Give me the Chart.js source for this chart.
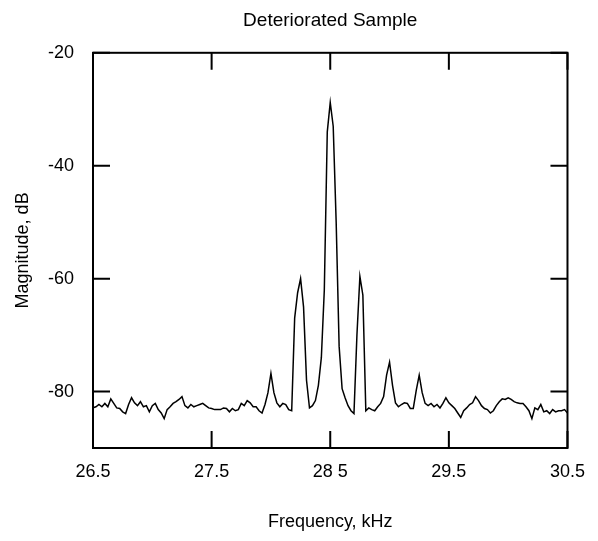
<!DOCTYPE html>
<html>
<head>
<meta charset="utf-8">
<title>Deteriorated Sample</title>
<script src="https://cdn.jsdelivr.net/npm/chart.js@4.4.1/dist/chart.umd.min.js"></script>
<style>
  html, body { margin: 0; padding: 0; background: #fff; }
  #wrap { width: 598px; height: 541px; }
</style>
</head>
<body>
<div id="wrap"><canvas id="myChart" width="598" height="541"></canvas></div>
<script>
// sampling grid of the spectrum (kHz)
const freqStart = 26.5;
const freqStep = 0.025;

// magnitude in dB, one value per grid step
const magnitude = [
    -82.9, -82.7, -82.3, -82.7, -82.1, -82.7, -81.3, -82.1, -82.9, -83.0,
    -83.6, -83.9, -82.3, -81.1, -82.0, -82.5, -81.8, -82.7, -82.5, -83.6,
    -82.5, -82.1, -83.2, -83.8, -84.8, -83.2, -82.7, -82.1, -81.8, -81.4,
    -80.9, -82.5, -82.9, -82.3, -82.7, -82.5, -82.3, -82.1, -82.5, -82.9,
    -83.0, -83.2, -83.2, -83.2, -82.9, -83.0, -83.6, -83.0, -83.4, -83.2,
    -82.1, -82.5, -81.6, -82.0, -82.7, -82.7, -83.4, -83.8, -82.3, -80.2,
    -76.8, -80.2, -82.0, -82.7, -82.1, -82.3, -83.2, -83.4, -67.0, -62.5,
    -60.0, -65.0, -78.0, -82.9, -82.5, -81.6, -78.9, -74.0, -62.0, -34.0,
    -28.8, -33.0, -50.0, -72.0, -79.5, -81.1, -82.5, -83.4, -83.9, -70.0,
    -59.6, -62.9, -83.4, -82.9, -83.2, -83.4, -82.7, -82.1, -80.9, -77.1,
    -74.8, -78.9, -82.0, -82.7, -82.3, -82.0, -82.1, -83.0, -83.0, -79.8,
    -77.1, -80.2, -82.1, -82.5, -82.1, -82.7, -82.3, -82.9, -82.1, -81.1,
    -82.0, -82.5, -83.0, -83.8, -84.6, -83.4, -82.9, -82.3, -82.0, -80.9,
    -81.6, -82.5, -83.0, -83.2, -83.8, -83.4, -82.5, -81.8, -81.3, -81.4,
    -81.1, -81.4, -81.8, -82.0, -82.1, -82.1, -82.7, -83.4, -84.8, -82.9,
    -83.2, -82.3, -83.6, -83.4, -83.9, -83.2, -83.6, -83.4, -83.4, -83.2,
    -83.8
];

const xTicks = [26.5, 27.5, 28.5, 29.5, 30.5];
const xTickLabels = ['26.5', '27.5', '28 5', '29.5', '30.5'];
const yTicks = [-20, -40, -60, -80];

const points = magnitude.map((m, i) => ({ x: freqStart + i * freqStep, y: m }));

Chart.defaults.font.family = '"Liberation Sans", Arial, Helvetica, sans-serif';
Chart.defaults.color = '#000';

// box round the plot plus inward tick marks on all four sides
const frame = {
    id: 'frame',
    afterDatasetsDraw(chart) {
        const { ctx, chartArea: a, scales: { x, y } } = chart;
        const len = 17;
        ctx.save();
        ctx.strokeStyle = '#000';
        ctx.lineWidth = 2;
        ctx.strokeRect(a.left, a.top, a.right - a.left, a.bottom - a.top);
        ctx.beginPath();
        xTicks.forEach(v => {
            const px = x.getPixelForValue(v);
            ctx.moveTo(px, a.bottom);
            ctx.lineTo(px, a.bottom - len);
            ctx.moveTo(px, a.top);
            ctx.lineTo(px, a.top + len);
        });
        yTicks.forEach(v => {
            const py = y.getPixelForValue(v);
            ctx.moveTo(a.left, py);
            ctx.lineTo(a.left + len, py);
            ctx.moveTo(a.right, py);
            ctx.lineTo(a.right - len, py);
        });
        ctx.stroke();
        ctx.restore();
    }
};

const config = {
    type: 'line',
    data: {
        datasets: [{
            label: 'Magnitude',
            data: points,
            borderColor: '#000',
            borderWidth: 1.5,
            pointRadius: 0,
            tension: 0,
            fill: false
        }]
    },
    options: {
        responsive: false,
        animation: false,
        layout: { padding: { top: 0, right: 25, bottom: 0, left: 0 } },
        plugins: {
            legend: { display: false },
            tooltip: { enabled: false },
            title: {
                display: true,
                text: 'Deteriorated Sample',
                fullSize: false,
                font: { size: 19, weight: 'normal' },
                padding: { top: 9, bottom: 21 }
            }
        },
        scales: {
            x: {
                type: 'linear',
                min: 26.5,
                max: 30.5,
                grid: { display: false, drawTicks: false },
                border: { display: false },
                afterBuildTicks: s => { s.ticks = xTicks.map(v => ({ value: v })); },
                afterFit: s => { s.height = 93; },
                ticks: {
                    font: { size: 18 },
                    padding: 13,
                    maxRotation: 0,
                    callback: (v, i) => xTickLabels[i]
                },
                title: {
                    display: true,
                    text: 'Frequency, kHz',
                    font: { size: 18 },
                    padding: { top: 0, bottom: 8 }
                }
            },
            y: {
                min: -90,
                max: -20,
                grid: { display: false, drawTicks: false },
                border: { display: false },
                afterBuildTicks: s => { s.ticks = yTicks.map(v => ({ value: v })); },
                afterFit: s => { s.width = 93; },
                ticks: {
                    font: { size: 18 },
                    padding: 19
                },
                title: {
                    display: true,
                    text: 'Magnitude, dB',
                    font: { size: 18 },
                    padding: { top: 12, bottom: 0 }
                }
            }
        }
    },
    plugins: [frame]
};

const myChart = new Chart(document.getElementById('myChart'), config);
</script>
</body>
</html>
